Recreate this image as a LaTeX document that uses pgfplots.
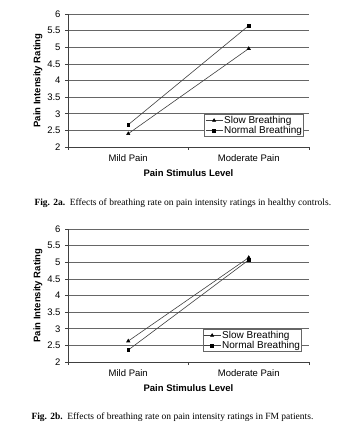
\documentclass[border=0pt]{standalone}
\usepackage{fontspec}
\setmainfont{Liberation Sans}
\newfontfamily\capfont{Liberation Serif}
\usepackage{pgfplots}
\pgfplotsset{compat=1.18}
\pgfplotsset{
  painaxis/.style={
    anchor=south west,
    scale only axis,
    width=241pt, height=133pt,
    xmin=0, xmax=2, ymin=2, ymax=6,
    axis x line=bottom, axis y line=left,
    axis line style={black!75, line width=0.7pt, -},
    xtick={0,1,2}, xticklabels={},
    extra x ticks={0.5,1.5},
    extra x tick labels={Mild Pain, Moderate Pain},
    extra x tick style={major tick length=0pt, grid=none},
    ytick={2,2.5,...,6},
    yticklabels={2,2.5,3,3.5,4,4.5,5,5.5,6},
    tick align=outside,
    major tick length=3pt,
    tick style={black!75, line width=0.7pt},
    ymajorgrids=true,
    grid style={black!60, line width=0.7pt},
    tick label style={font=\fontsize{9.5}{11}\selectfont},
    xticklabel style={yshift=-4pt},
    yticklabel style={xshift=-1pt},
    xlabel={\bfseries Pain Stimulus Level},
    ylabel={\bfseries Pain Intensity Rating},
    label style={font=\fontsize{9.5}{11}\selectfont},
    xlabel style={yshift=2pt},
    ylabel style={yshift=-2pt},
    legend cell align=left,
    legend image code/.code={
      \draw[mark repeat=2,mark phase=2] plot coordinates {(0cm,0cm) (0.3cm,0cm) (0.6cm,0cm)};},
    legend style={draw=black!60, fill=white, line width=0.6pt,
      font=\fontsize{10}{11.5}\selectfont, inner sep=0.5pt,
      row sep=-1pt, anchor=south east,
      nodes={inner sep=1.2pt}},
    every axis plot/.append style={black!75, line width=0.6pt},
  },
}
\begin{document}
\begin{tikzpicture}
\path (0pt,0pt) rectangle (355pt,432pt);
% Top chart (healthy controls)
\begin{axis}[painaxis, at={(68pt,285pt)},
  legend style={at={(rel axis cs:0.979,0.075)}}]
\addplot[mark=triangle*, mark options={fill=black, draw=black, scale=0.9}]
  coordinates {(0.5,2.40) (1.5,4.96)};
\addlegendentry{Slow Breathing}
\addplot[mark=square*, mark options={fill=black, draw=black, scale=0.7}]
  coordinates {(0.5,2.67) (1.5,5.65)};
\addlegendentry{Normal Breathing}
\end{axis}
\node[anchor=west, font=\capfont\fontsize{9.5}{11}\selectfont] at (31pt,229pt)
  {\textbf{Fig. 2a.}\ \ Effects of breathing rate on pain intensity ratings in healthy controls.};
% Bottom chart (FM patients)
\begin{axis}[painaxis, at={(68pt,70pt)},
  legend style={at={(rel axis cs:0.971,0.075)}}]
\addplot[mark=triangle*, mark options={fill=black, draw=black, scale=0.9}]
  coordinates {(0.5,2.63) (1.5,5.14)};
\addlegendentry{Slow Breathing}
\addplot[mark=square*, mark options={fill=black, draw=black, scale=0.7}]
  coordinates {(0.5,2.36) (1.5,5.07)};
\addlegendentry{Normal Breathing}
\end{axis}
\node[anchor=west, font=\capfont\fontsize{9.5}{11}\selectfont] at (28pt,15pt)
  {\textbf{Fig. 2b.}\ \ Effects of breathing rate on pain intensity ratings in FM patients.};
\end{tikzpicture}
\end{document}
